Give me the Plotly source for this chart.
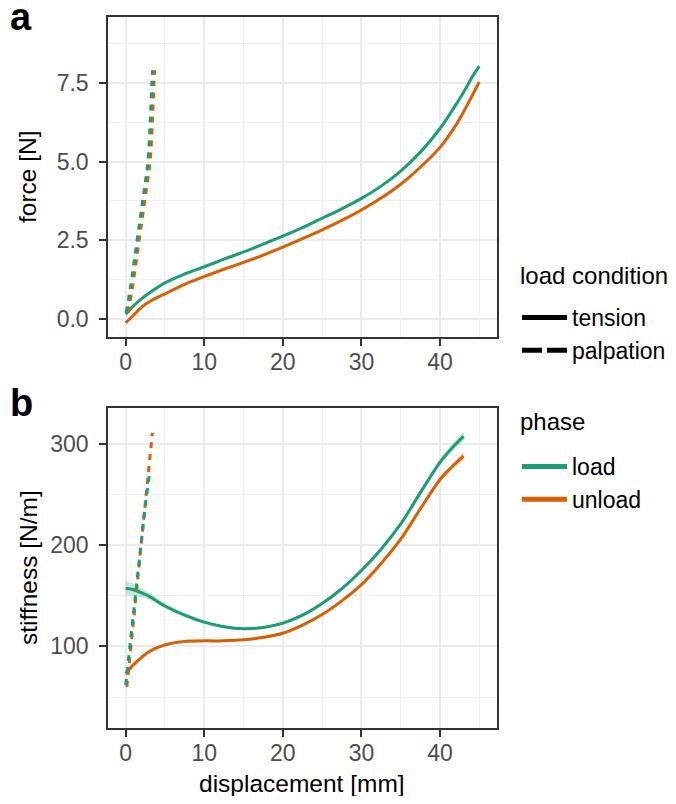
import plotly.graph_objects as go

# ---------------- data ----------------
# panel a: force vs displacement, tension (solid)
disp_tension = [0, 1, 2, 3, 5, 7.5, 10, 12.5, 15, 17.5, 20, 22.5, 25, 27.5, 30,
                32.5, 35, 37.5, 40, 42, 43, 44, 45]
force_load = [0.15, 0.42, 0.64, 0.83, 1.15, 1.43, 1.66, 1.9, 2.13, 2.38, 2.63, 2.9,
              3.2, 3.5, 3.83, 4.22, 4.7, 5.3, 6.05, 6.8, 7.2, 7.65, 8.03]
force_unload = [-0.12, 0.12, 0.37, 0.55, 0.8, 1.1, 1.35, 1.58, 1.8, 2.03, 2.28, 2.55,
                2.83, 3.13, 3.46, 3.84, 4.28, 4.82, 5.45, 6.15, 6.58, 7.05, 7.53]

# panel a: palpation (dashed)
disp_palp_load = [0.05, 0.6, 1.45, 2.15, 2.83, 3.12, 3.33, 3.42]
disp_palp_unload = [0.3, 0.86, 1.71, 2.42, 3.1, 3.39, 3.6, 3.68]
force_palp = [0.2, 1.0, 2.5, 3.75, 5.0, 6.25, 7.5, 7.9]

# panel b: stiffness vs displacement, tension (solid with ribbons)
disp_stiff = [0, 1, 2, 3, 5, 7.5, 10, 12.5, 15, 17.5, 20, 22.5, 25, 27.5, 30,
              32.5, 35, 37.5, 40, 41, 42, 43]
stiff_load = [157.5, 156, 153, 149.5, 140, 131, 124, 119.5, 117.5, 118.8, 123, 131,
              142.5, 157, 175, 196, 221, 252, 282, 291.5, 300, 307.5]
stiff_load_se = [7, 6, 4.5, 3.5, 2.5, 2, 1.5, 1.5, 1.5, 1.5, 1.5, 1.5,
                 1.5, 1.5, 1.5, 1.5, 2, 2.5, 3, 3.3, 3.6, 4]
stiff_unload = [73, 82, 89, 95, 101.5, 105, 105.5, 105.5, 106.5, 109, 113, 121,
                131.5, 145, 161, 182, 206, 236, 265, 273.5, 281, 288]
stiff_unload_se = [3, 2.5, 2, 1.5, 1.5, 1.5, 1.2, 1.2, 1.2, 1.2, 1.2, 1.2,
                   1.2, 1.2, 1.2, 1.5, 1.5, 2, 2.5, 2.8, 3, 3.5]

# panel b: palpation (dashed)
disp_palp_stiff_load = [0, 0.5, 1, 1.5, 2, 2.5, 3.09]
stiff_palp_load = [62, 97, 133, 169, 204, 240, 274]
disp_palp_stiff_unload = [0.15, 0.65, 1.15, 1.65, 2.15, 2.65, 3.15, 3.4]
stiff_palp_unload = [60, 98, 137, 176, 214, 253, 291, 311]

phases = ["load", "unload"]
conditions = ["tension", "palpation"]
x_ticks = [0, 10, 20, 30, 40]
force_ticks = [0, 2.5, 5, 7.5]
stiff_ticks = [100, 200, 300]

# ---------------- style ----------------
GREEN = "#1B9E77"
ORANGE = "#D95F02"
GREEN_FILL = "rgba(27,158,119,0.25)"
ORANGE_FILL = "rgba(217,95,2,0.25)"
FONT = "Liberation Sans, Arial, Helvetica, sans-serif"
PAGE_W, PAGE_H = 676, 804
OFF = 8  # default page body margin
W, H = PAGE_W - 2 * OFF, PAGE_H - 2 * OFF
LW = 3
DASH = "6px,6px"

def px_x(p):
    # screen pixel -> paper fraction
    return (p - OFF) / W

def px_y(p):
    return 1 - (p - OFF) / H

fig = go.Figure()

# ---- panel a ----
fig.add_trace(go.Scatter(x=disp_tension, y=force_unload, mode="lines", line=dict(color=ORANGE, width=LW, shape="spline"),
                         showlegend=False, xaxis="x", yaxis="y"))
fig.add_trace(go.Scatter(x=disp_tension, y=force_load, mode="lines", line=dict(color=GREEN, width=LW, shape="spline"),
                         showlegend=False, xaxis="x", yaxis="y"))
fig.add_trace(go.Scatter(x=disp_palp_unload, y=force_palp, mode="lines", line=dict(color=ORANGE, width=LW, dash=DASH, shape="spline"),
                         showlegend=False, xaxis="x", yaxis="y"))
fig.add_trace(go.Scatter(x=disp_palp_load, y=force_palp, mode="lines", line=dict(color=GREEN, width=LW, dash=DASH, shape="spline"),
                         showlegend=False, xaxis="x", yaxis="y"))

# ---- panel b ----
def ribbon(xs, ys, se, fill):
    lo = [y - s for y, s in zip(ys, se)]
    hi = [y + s for y, s in zip(ys, se)]
    return go.Scatter(x=xs + xs[::-1], y=hi + lo[::-1], fill="toself", fillcolor=fill,
                      line=dict(width=0, shape="spline"), mode="lines", showlegend=False, hoverinfo="skip",
                      xaxis="x2", yaxis="y2")

fig.add_trace(ribbon(disp_stiff, stiff_unload, stiff_unload_se, ORANGE_FILL))
fig.add_trace(ribbon(disp_stiff, stiff_load, stiff_load_se, GREEN_FILL))
fig.add_trace(go.Scatter(x=disp_stiff, y=stiff_unload, mode="lines", line=dict(color=ORANGE, width=LW, shape="spline"),
                         showlegend=False, xaxis="x2", yaxis="y2"))
fig.add_trace(go.Scatter(x=disp_stiff, y=stiff_load, mode="lines", line=dict(color=GREEN, width=LW, shape="spline"),
                         showlegend=False, xaxis="x2", yaxis="y2"))
fig.add_trace(go.Scatter(x=disp_palp_stiff_unload, y=stiff_palp_unload, mode="lines",
                         line=dict(color=ORANGE, width=LW, dash=DASH), showlegend=False, xaxis="x2", yaxis="y2"))
fig.add_trace(go.Scatter(x=disp_palp_stiff_load, y=stiff_palp_load, mode="lines",
                         line=dict(color=GREEN, width=LW, dash=DASH), showlegend=False, xaxis="x2", yaxis="y2"))

# ---- legend entries ----
for name, dash in zip(conditions, ["solid", "20px,5px"]):
    fig.add_trace(go.Scatter(x=[None], y=[None], mode="lines", name=name,
                             line=dict(color="black", width=5, dash=dash), legend="legend",
                             xaxis="x", yaxis="y"))
for name, col in zip(phases, [GREEN, ORANGE]):
    fig.add_trace(go.Scatter(x=[None], y=[None], mode="lines", name=name,
                             line=dict(color=col, width=5), legend="legend2",
                             xaxis="x2", yaxis="y2"))

axis_common = dict(
    showline=True, mirror=True, linecolor="#333333", linewidth=1.5,
    showgrid=True, gridcolor="#EBEBEB", gridwidth=2,
    zeroline=False, ticks="outside", ticklen=7, tickwidth=2, tickcolor="#333333",
    tickfont=dict(family=FONT, size=23, color="#4D4D4D"),
    automargin=False, fixedrange=True,
)
x_dom = [px_x(108), px_x(497)]
minor_x = dict(tickmode="linear", tick0=0, dtick=5, showgrid=True, gridcolor="#F0F0F0", gridwidth=1, ticks="")

fig.update_layout(
    width=W, height=H,
    margin=dict(l=0, r=0, t=0, b=0, autoexpand=False),
    paper_bgcolor="white", plot_bgcolor="white",
    font=dict(family=FONT, color="black"),
    xaxis=dict(axis_common, domain=x_dom, range=[-2.25, 47.25], tickmode="array", tickvals=x_ticks,
               minor=minor_x, anchor="y", ticklabelstandoff=-3),
    yaxis=dict(axis_common, domain=[px_y(337), px_y(17)], range=[-0.57, 9.59], tickmode="array",
               tickvals=force_ticks, ticktext=[f"{v:.1f}" for v in force_ticks],
               minor=dict(tickmode="linear", tick0=0, dtick=1.25, showgrid=True, gridcolor="#F0F0F0", gridwidth=1, ticks=""),
               anchor="x", ticklabelstandoff=6),
    xaxis2=dict(axis_common, domain=x_dom, range=[-2.25, 47.25], tickmode="array", tickvals=x_ticks,
                minor=minor_x, anchor="y2", ticklabelstandoff=-3),
    yaxis2=dict(axis_common, domain=[px_y(728), px_y(408)], range=[19.4, 335.6], tickmode="array",
                tickvals=stiff_ticks,
                minor=dict(tickmode="linear", tick0=0, dtick=50, showgrid=True, gridcolor="#F0F0F0", gridwidth=1, ticks=""),
                anchor="x2", ticklabelstandoff=6),
    legend=dict(font=dict(size=23, family=FONT), x=px_x(517), y=px_y(296), xanchor="left", yanchor="top",
                bgcolor="rgba(0,0,0,0)", itemwidth=45, tracegroupgap=0),
    legend2=dict(font=dict(size=23, family=FONT), x=px_x(517), y=px_y(445), xanchor="left", yanchor="top",
                 bgcolor="rgba(0,0,0,0)", itemwidth=45, tracegroupgap=0),
    showlegend=True,
)

annos = [
    dict(text="<b>a</b>", x=0, y=px_y(17), xanchor="left", yanchor="middle", font=dict(size=38, family=FONT)),
    dict(text="<b>b</b>", x=0, y=px_y(403), xanchor="left", yanchor="middle", font=dict(size=38, family=FONT)),
    dict(text="force [N]", x=px_x(27), y=px_y(177), textangle=-90, xanchor="center", yanchor="middle",
         font=dict(size=24.5, family=FONT)),
    dict(text="stiffness [N/m]", x=px_x(28), y=px_y(568), textangle=-90, xanchor="center", yanchor="middle",
         font=dict(size=24.5, family=FONT)),
    dict(text="displacement [mm]", x=px_x(302), y=px_y(783), xanchor="center", yanchor="middle",
         font=dict(size=24.5, family=FONT)),
    dict(text="load condition", x=px_x(518), y=px_y(275), xanchor="left", yanchor="middle",
         font=dict(size=24, family=FONT)),
    dict(text="phase", x=px_x(518), y=px_y(421), xanchor="left", yanchor="middle",
         font=dict(size=24, family=FONT)),
]
for a in annos:
    fig.add_annotation(xref="paper", yref="paper", showarrow=False, **a)

fig.write_html("out.html")
